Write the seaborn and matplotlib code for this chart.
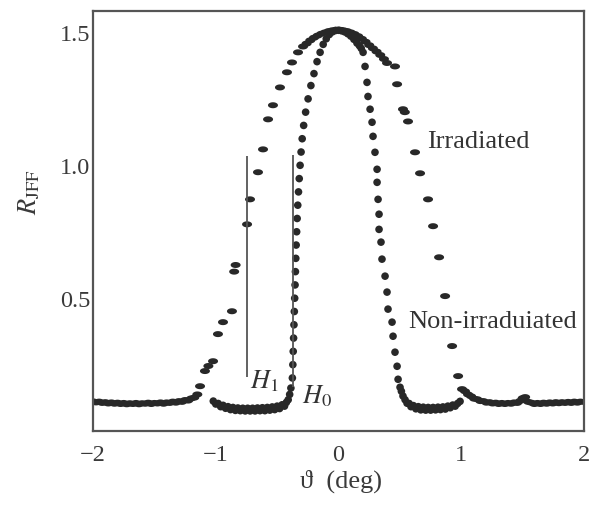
import matplotlib
matplotlib.use("Agg")
import numpy as np
import pandas as pd
import seaborn as sns
import matplotlib.pyplot as plt
from matplotlib.path import Path
from matplotlib.ticker import MultipleLocator

# ---- measured reflectance vs. angle ----
# irradiated sample (broad peak)
irr_x = [-2.00, -1.975, -1.95, -1.925, -1.90, -1.875, -1.85, -1.825, -1.80, -1.775,
         -1.75, -1.725, -1.70, -1.675, -1.65, -1.625, -1.60, -1.575, -1.55, -1.525,
         -1.50, -1.475, -1.45, -1.425, -1.40, -1.375, -1.35, -1.325, -1.30, -1.275,
         -1.25, -1.225, -1.20, -1.175, -1.15,
         -1.128, -1.088, -1.060, -1.022, -0.982, -0.941, -0.868, -0.850, -0.838,
         -0.745, -0.721, -0.656, -0.615, -0.574, -0.534, -0.477, -0.420, -0.379,
         -0.330, -0.289, -0.26, -0.23, -0.20, -0.17, -0.14, -0.11, -0.08, -0.05,
         -0.02, 0.01, 0.04, 0.07, 0.10, 0.13, 0.16, 0.19, 0.22, 0.25, 0.28,
         0.31, 0.34, 0.37, 0.395, 0.46, 0.477,
         0.525, 0.540, 0.566, 0.623, 0.664, 0.729, 0.770, 0.819, 0.868, 0.925,
         0.974, 1.006, 1.03, 1.055, 1.08, 1.105, 1.13, 1.155, 1.18, 1.205, 1.23,
         1.255, 1.28, 1.305, 1.33, 1.355, 1.38, 1.405, 1.43, 1.455, 1.48, 1.50,
         1.52, 1.545, 1.57, 1.595, 1.62, 1.645, 1.67, 1.695, 1.72, 1.745, 1.77,
         1.795, 1.82, 1.845, 1.87, 1.895, 1.92, 1.945, 1.97, 2.00]
irr_y = [0.112, 0.108, 0.111, 0.106, 0.109, 0.104, 0.108, 0.103, 0.107, 0.102,
         0.106, 0.101, 0.105, 0.102, 0.106, 0.101, 0.105, 0.103, 0.107, 0.102,
         0.106, 0.104, 0.108, 0.103, 0.108, 0.106, 0.111, 0.107, 0.113, 0.110,
         0.117, 0.115, 0.123, 0.126, 0.138,
         0.169, 0.226, 0.245, 0.263, 0.365, 0.410, 0.451, 0.600, 0.625,
         0.778, 0.872, 0.974, 1.060, 1.173, 1.226, 1.293, 1.350, 1.387,
         1.425, 1.447, 1.458, 1.470, 1.480, 1.488, 1.495, 1.500, 1.505, 1.508,
         1.510, 1.510, 1.508, 1.505, 1.500, 1.494, 1.486, 1.476, 1.465, 1.452, 1.440,
         1.428, 1.415, 1.400, 1.385, 1.372, 1.305,
         1.211, 1.200, 1.165, 1.049, 0.970, 0.872, 0.771, 0.654, 0.508, 0.320,
         0.207, 0.158, 0.150, 0.138, 0.131, 0.122, 0.120, 0.113, 0.113, 0.107, 0.109,
         0.104, 0.107, 0.102, 0.106, 0.102, 0.106, 0.103, 0.108, 0.106, 0.114, 0.124,
         0.128, 0.110, 0.107, 0.102, 0.106, 0.102, 0.107, 0.103, 0.108, 0.104, 0.109,
         0.105, 0.109, 0.106, 0.110, 0.106, 0.111, 0.107, 0.111, 0.110]

# non-irradiated sample (narrow peak)
non_x = [-1.02, -1.00, -0.98, -0.96, -0.94, -0.92, -0.90, -0.88, -0.86, -0.84,
         -0.82, -0.80, -0.78, -0.76, -0.74, -0.72, -0.70, -0.68, -0.66, -0.64,
         -0.62, -0.60, -0.58, -0.56, -0.54, -0.52, -0.50, -0.48, -0.46, -0.44,
         -0.425, -0.41, -0.398, -0.388,
         -0.376, -0.372, -0.369, -0.366, -0.363, -0.360, -0.357, -0.354, -0.351,
         -0.348, -0.345, -0.341, -0.337, -0.332, -0.326, -0.320, -0.313, -0.305,
         -0.296, -0.284, -0.268, -0.248, -0.225, -0.20, -0.175, -0.15, -0.125,
         -0.10, -0.075, -0.05, -0.025, 0.00, 0.025, 0.05, 0.075, 0.10, 0.125,
         0.15, 0.17, 0.185, 0.200, 0.216, 0.232, 0.240, 0.257, 0.273, 0.281,
         0.297, 0.314, 0.314, 0.322, 0.330, 0.330, 0.346, 0.354, 0.379, 0.395,
         0.403, 0.436, 0.444, 0.460, 0.477, 0.485, 0.501, 0.512, 0.525, 0.542,
         0.558, 0.575, 0.59, 0.61, 0.63, 0.65, 0.67, 0.69, 0.71, 0.73, 0.75,
         0.77, 0.79, 0.81, 0.83, 0.85, 0.87, 0.89, 0.91, 0.93, 0.95, 0.97, 0.99]
non_y = [0.113, 0.102, 0.104, 0.092, 0.097, 0.086, 0.092, 0.081, 0.089, 0.078,
         0.087, 0.077, 0.086, 0.076, 0.086, 0.076, 0.086, 0.076, 0.087, 0.077,
         0.088, 0.077, 0.089, 0.079, 0.091, 0.081, 0.094, 0.085, 0.099, 0.094,
         0.108, 0.118, 0.138, 0.162,
         0.200, 0.250, 0.300, 0.350, 0.400, 0.450, 0.500, 0.550, 0.600,
         0.650, 0.700, 0.750, 0.800, 0.850, 0.900, 0.950, 1.000, 1.050,
         1.100, 1.150, 1.200, 1.250, 1.300, 1.345, 1.390, 1.425, 1.455,
         1.476, 1.492, 1.502, 1.507, 1.508, 1.506, 1.502, 1.495, 1.486, 1.474,
         1.460, 1.450, 1.440, 1.425, 1.372, 1.312, 1.259, 1.211, 1.162, 1.109,
         1.049, 0.985, 0.936, 0.872, 0.816, 0.759, 0.711, 0.647, 0.583, 0.523,
         0.459, 0.410, 0.357, 0.297, 0.244, 0.195, 0.165, 0.150, 0.132, 0.118,
         0.105, 0.104, 0.092, 0.096, 0.084, 0.092, 0.080, 0.090, 0.079, 0.089, 0.079,
         0.089, 0.080, 0.090, 0.081, 0.091, 0.083, 0.094, 0.088, 0.098, 0.094, 0.104, 0.112]

# marker lines for the two half-widths
H1_X, H1_SPAN = -0.745, (0.203, 1.034)
H0_X, H0_SPAN = -0.368, (0.165, 1.040)

x_ticks = [-2, -1, 0, 1, 2]
y_ticks = [0.5, 1.0, 1.5]

sns.set_theme(style="white")
plt.rcParams["font.family"] = ["Liberation Serif", "DejaVu Serif"]
plt.rcParams["mathtext.fontset"] = "stix"

INK = "#282828"
AXC = "#555555"

irr = pd.DataFrame({"theta": irr_x, "R": irr_y})
non = pd.DataFrame({"theta": non_x, "R": non_y})

t = np.linspace(0, 2 * np.pi, 33)
ellipse = Path(np.column_stack([np.cos(t), 0.6 * np.sin(t)]), closed=True)

fig = plt.figure(figsize=(5.96, 5.06), dpi=100)
ax = fig.add_axes([0.156, 0.146, 0.824, 0.830])

sns.scatterplot(data=irr, x="theta", y="R", marker=ellipse, s=52,
                color=INK, edgecolor="none", linewidth=0, ax=ax)
sns.scatterplot(data=non, x="theta", y="R", marker="o", s=30,
                color=INK, edgecolor="none", linewidth=0, ax=ax)

ax.vlines(H1_X, *H1_SPAN, color=AXC, lw=1.3)
ax.vlines(H0_X, *H0_SPAN, color=AXC, lw=1.3)

ax.set_xlim(-2, 2)
ax.set_ylim(0.0, 1.58)
ax.set_xticks(x_ticks)
ax.set_yticks(y_ticks)
ax.xaxis.set_minor_locator(MultipleLocator(0.5))
ax.yaxis.set_minor_locator(MultipleLocator(0.25))
ax.tick_params(which="both", direction="in", color=AXC, width=1.3,
               top=False, right=False, labelcolor="#3a3a3a", labelsize=17.5)
ax.tick_params(which="major", length=9.5)
ax.tick_params(which="minor", length=7)
ax.tick_params(axis="y", pad=2)
ax.tick_params(axis="x", pad=9)
for sp in ax.spines.values():
    sp.set_color(AXC)
    sp.set_linewidth(1.6)

ax.set_xlabel("\u03d1  (deg)", fontsize=19, color="#3a3a3a")
ax.xaxis.set_label_coords(0.505, -0.09)
ax.set_ylabel(r"$R_{\mathrm{JFF}}$", fontsize=19, color="#3a3a3a")
ax.yaxis.set_label_coords(-0.104, 0.571)

ax.text(0.72, 1.09, "Irradiated", fontsize=19, color="#333333", va="center")
ax.text(0.565, 0.414, "Non-irraduiated", fontsize=19, color="#333333", va="center")
ax.text(-0.725, 0.19, r"$H_1$", fontsize=19, color="#333333", va="center")
ax.text(-0.30, 0.135, r"$H_0$", fontsize=19, color="#333333", va="center")

fig.savefig("out.png", dpi=100)
